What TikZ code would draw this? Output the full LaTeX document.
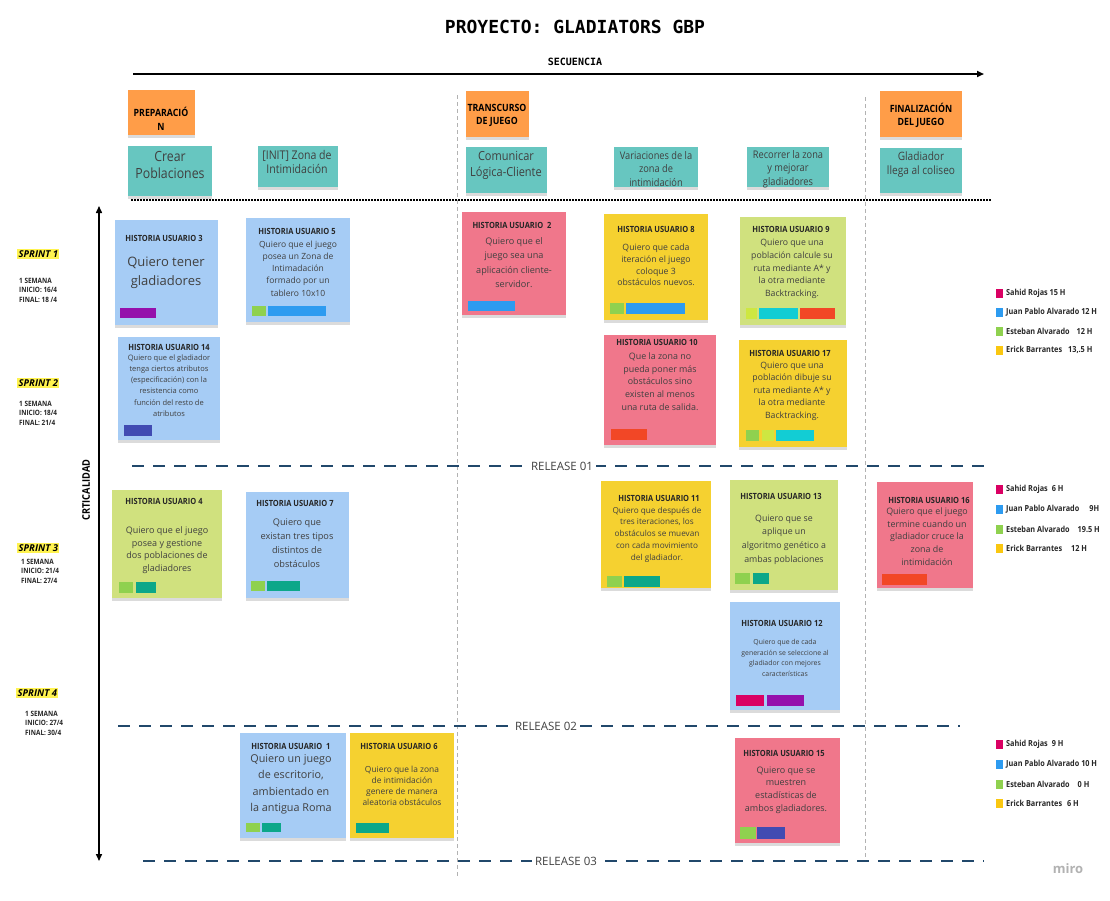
\documentclass[tikz,border=0pt]{standalone}
\usepackage{fontspec}
\setmainfont{Open Sans}
\newfontfamily\headfont[FakeStretch=0.88]{Open Sans}
\newfontfamily\monofont{DejaVu Sans Mono}
\usetikzlibrary{arrows.meta,shadows}

\definecolor{stickyblue}{HTML}{A6CCF5}
\definecolor{stickyred}{HTML}{F0778B}
\definecolor{stickyyellow}{HTML}{F5D130}
\definecolor{stickygreen}{HTML}{D0E17E}
\definecolor{stickyorange}{HTML}{FF9D48}
\definecolor{stickyteal}{HTML}{67C6C0}
\definecolor{tagpurple}{HTML}{9510AC}
\definecolor{tagblue}{HTML}{2D9BF0}
\definecolor{taggreen}{HTML}{8FD14F}
\definecolor{tagteal}{HTML}{0CA789}
\definecolor{tagcyan}{HTML}{12CDD4}
\definecolor{tagred}{HTML}{F24726}
\definecolor{tagindigo}{HTML}{414BB2}
\definecolor{taglime}{HTML}{CEE741}
\definecolor{tagmagenta}{HTML}{DA0063}
\definecolor{tagyellow}{HTML}{FAC710}
\definecolor{releaseblue}{HTML}{21486B}
\definecolor{sprintyellow}{HTML}{FFF34F}

\begin{document}
\begin{tikzpicture}[
        x=1pt, y=-1pt,
        sticky/.style={rectangle, anchor=north west, inner sep=0pt,
            drop shadow={shadow xshift=0pt, shadow yshift=-3pt, fill=black, opacity=0.14}},
        hutitle/.style={font=\headfont\bfseries\fontsize{8.5}{10}\selectfont, text=black!85, inner sep=0pt},
        hubody/.style={align=center, text=black!75, inner sep=0pt},
        phase/.style={align=center, font=\headfont\bfseries\fontsize{10}{13.5}\selectfont, inner sep=0pt},
        epic/.style={align=center, text=black!75, inner sep=0pt},
        sprint/.style={fill=sprintyellow, font=\bfseries\itshape\fontsize{9.5}{11}\selectfont, inner sep=1.5pt, anchor=west},
        sprintinfo/.style={anchor=north west, align=left, font=\headfont\bfseries\fontsize{7.3}{9.3}\selectfont, text=black!85, inner sep=0pt},
        legtext/.style={anchor=west, font=\headfont\bfseries\fontsize{8.3}{9}\selectfont, text=black!85, inner sep=0pt},
        release/.style={draw=releaseblue, line width=2.2pt, dash pattern=on 12pt off 9pt},
        relabel/.style={fill=white, font=\fontsize{11.5}{13}\selectfont, text=black!75, inner sep=3pt},
        lane/.style={draw=black!30, dash pattern=on 4pt off 3pt, line width=0.7pt},
        ]

        \fill[white] (0,0) rectangle (1110,900);
        \useasboundingbox (0,0) rectangle (1110,900);

        % Title and axes
        \node[font=\monofont\bfseries\fontsize{18}{20}\selectfont] (title) at (575,27) {PROYECTO: GLADIATORS GBP};
        \node[font=\monofont\bfseries\fontsize{10}{11}\selectfont] (seq) at (575,62) {SECUENCIA};
        \coordinate (seqstart) at (133,74);
        \coordinate (seqend) at (984,74);
        \draw[line width=1.8pt, -{Triangle[length=7pt,width=6pt]}] (seqstart) -- (seqend);

        \coordinate (crtop) at (99,206);
        \coordinate (crbot) at (99,861);
        \draw[line width=1.5pt, {Triangle[length=7pt,width=6pt]}-{Triangle[length=7pt,width=6pt]}] (crtop) -- (crbot);
        \node[rotate=90, font=\headfont\bfseries\fontsize{10.5}{12}\selectfont] (crit) at (86,490) {CRTICALIDAD};

        \draw[line width=1.6pt, dash pattern=on 1.5pt off 1.5pt] (131,200) -- (991,200);
        \draw[lane] (457,95) -- (457,877);
        \draw[lane] (865,97) -- (865,857);

        % Releases
        \draw[release] (132,466) -- (984,466);
        \draw[release] (118,726) -- (960,726);
        \draw[release] (143,861) -- (984,861);
        \node[relabel] (r1) at (562,466) {RELEASE 01};
        \node[relabel] (r2) at (546,726) {RELEASE 02};
        \node[relabel] (r3) at (566,861) {RELEASE 03};

        % Phases
        \node[sticky, fill=stickyorange, minimum width=67, minimum height=45] (prep) at (128,90) {};
        \node[phase] (prept) at (161,119) {PREPARACIÓ\\N};
        \node[sticky, fill=stickyorange, minimum width=63, minimum height=46] (trans) at (466,91) {};
        \node[phase, font=\headfont\bfseries\fontsize{10}{13}\selectfont] (transt) at (497,115) {TRANSCURSO\\DE JUEGO};
        \node[sticky, fill=stickyorange, minimum width=82, minimum height=46] (fin) at (880,91) {};
        \node[phase, font=\headfont\bfseries\fontsize{10}{13}\selectfont] (fint) at (921,115.5) {FINALIZACIÓN\\DEL JUEGO};

        % Epics
        \node[sticky, fill=stickyteal, minimum width=84, minimum height=50] (crear) at (128,146) {};
        \node[epic, font=\headfont\fontsize{14}{17}\selectfont] (creart) at (170,165) {Crear\\Poblaciones};
        \node[sticky, fill=stickyteal, minimum width=80, minimum height=41] (init) at (258,146) {};
        \node[epic, font=\headfont\fontsize{12}{14}\selectfont] (initt) at (297,161.5) {[INIT] Zona de\\Intimidación};
        \node[sticky, fill=stickyteal, minimum width=81, minimum height=46] (comu) at (466,147) {};
        \node[epic, font=\headfont\fontsize{12.5}{16}\selectfont] (comut) at (506,165.5) {Comunicar\\Lógica-Cliente};
        \node[sticky, fill=stickyteal, minimum width=84, minimum height=40] (vari) at (614,147) {};
        \node[epic, font=\headfont\fontsize{10.5}{13.5}\selectfont] (varit) at (656,169) {Variaciones de la\\zona de\\intimidación};
        \node[sticky, fill=stickyteal, minimum width=82, minimum height=40] (reco) at (747,147) {};
        \node[epic, font=\headfont\fontsize{10.5}{13.5}\selectfont] (recot) at (788,169) {Recorrer la zona\\y mejorar\\gladiadores};
        \node[sticky, fill=stickyteal, minimum width=82, minimum height=45] (glad) at (880,148) {};
        \node[epic, font=\headfont\fontsize{11.5}{14}\selectfont] (gladt) at (921,164.5) {Gladiador\\llega al coliseo};

        % Sprints
        \node[sprint] (s1) at (17,254) {SPRINT 1};
        \node[sprintinfo] (s1i) at (19,278) {1 SEMANA\\INICIO: 16/4\\FINAL: 18 /4};
        \node[sprint] (s2) at (17,383) {SPRINT 2};
        \node[sprintinfo] (s2i) at (19,401) {1 SEMANA\\INICIO: 18/4\\FINAL: 21/4};
        \node[sprint] (s3) at (17,548) {SPRINT 3};
        \node[sprintinfo] (s3i) at (21,559) {1 SEMANA\\INICIO: 21/4\\FINAL: 27/4};
        \node[sprint] (s4) at (16,693) {SPRINT 4};
        \node[sprintinfo] (s4i) at (25,711) {1 SEMANA\\INICIO: 27/4\\FINAL: 30/4};

        % Historias, release 01
        \node[sticky, fill=stickyblue, minimum width=103, minimum height=105] (hu3) at (115,220) {};
        \node[hutitle] (hu3t) at (164,238) {HISTORIA USUARIO 3};
        \node[hubody, font=\fontsize{13}{19.5}\selectfont] (hu3b) at (166,273) {Quiero tener\\gladiadores};
        \fill[tagpurple] (120,308) rectangle (156,318);

        \node[sticky, fill=stickyblue, minimum width=104, minimum height=104] (hu5) at (246,218) {};
        \node[hutitle] (hu5t) at (297,231) {HISTORIA USUARIO 5};
        \node[hubody, font=\fontsize{8.5}{12.2}\selectfont] (hu5b) at (298,268.5) {Quiero que el juego\\posea un Zona de\\Intimadación\\formado por un\\tablero 10x10};
        \fill[taggreen] (252,306) rectangle (266,316);
        \fill[tagblue] (268,306) rectangle (326,316);

        \node[sticky, fill=stickyblue, minimum width=102, minimum height=103] (hu14) at (118,337) {};
        \node[hutitle] (hu14t) at (169,347) {HISTORIA USUARIO 14};
        \node[hubody, font=\fontsize{7.5}{11.2}\selectfont] (hu14b) at (169,385.5) {Quiero que el gladiador\\tenga ciertos atributos\\(especificación) con la\\resistencia como\\función del resto de\\atributos};
        \fill[tagindigo] (124,425) rectangle (152,436);

        \node[sticky, fill=stickyred, minimum width=104, minimum height=103] (hu2) at (462,212) {};
        \node[hutitle] (hu2t) at (512,225) {HISTORIA USUARIO\ \ 2};
        \node[hubody, font=\fontsize{9.1}{14.3}\selectfont] (hu2b) at (514,262.5) {Quiero que el\\juego sea una\\aplicación cliente-\\servidor.};
        \fill[tagblue] (468,301) rectangle (515,311);

        \node[sticky, fill=stickyyellow, minimum width=104, minimum height=106] (hu8) at (604,214) {};
        \node[hutitle] (hu8t) at (656,229) {HISTORIA USUARIO 8};
        \node[hubody, font=\fontsize{8.7}{11.6}\selectfont] (hu8b) at (656,265) {Quiero que cada\\iteración el juego\\coloque 3\\obstáculos nuevos.};
        \fill[taggreen] (610,303) rectangle (624,314);
        \fill[tagblue] (626,303) rectangle (685,314);

        \node[sticky, fill=stickygreen, minimum width=106, minimum height=108] (hu9) at (740,217) {};
        \node[hutitle] (hu9t) at (791,229) {HISTORIA USUARIO 9};
        \node[hubody, font=\fontsize{8.7}{12.6}\selectfont] (hu9b) at (792,269) {Quiero que una\\población calcule su\\ruta mediante A* y\\la otra mediante\\Backtracking.};
        \fill[taglime] (746,308) rectangle (757,319);
        \fill[tagcyan] (759,308) rectangle (798,319);
        \fill[tagred] (800,308) rectangle (835,319);

        \node[sticky, fill=stickyred, minimum width=112, minimum height=110] (hu10) at (604,335) {};
        \node[hutitle] (hu10t) at (657,342) {HISTORIA USUARIO 10};
        \node[hubody, font=\fontsize{8.9}{12.8}\selectfont] (hu10b) at (660,381.5) {Que la zona no\\pueda poner más\\obstáculos sino\\existen al menos\\una ruta de salida.};
        \fill[tagred] (611,429) rectangle (647,440);

        \node[sticky, fill=stickyyellow, minimum width=108, minimum height=107] (hu17) at (739,340) {};
        \node[hutitle] (hu17t) at (790,353) {HISTORIA USUARIO 17};
        \node[hubody, font=\fontsize{8.7}{12.5}\selectfont] (hu17b) at (792,391) {Quiero que una\\población dibuje su\\ruta mediante A* y\\la otra mediante\\Backtracking.};
        \fill[taggreen] (746,430) rectangle (759,441);
        \fill[taglime] (762,430) rectangle (774,441);
        \fill[tagcyan] (776,430) rectangle (814,441);

        % Historias, release 02
        \node[sticky, fill=stickygreen, minimum width=110, minimum height=108] (hu4) at (112,490) {};
        \node[hutitle] (hu4t) at (164,501) {HISTORIA USUARIO 4};
        \node[hubody, font=\fontsize{9}{12.5}\selectfont] (hu4b) at (167,550) {Quiero que el juego\\posea y gestione\\dos poblaciones de\\gladiadores};
        \fill[taggreen] (119,582) rectangle (133,593);
        \fill[tagteal] (136,582) rectangle (156,593);

        \node[sticky, fill=stickyblue, minimum width=103, minimum height=106] (hu7) at (246,492) {};
        \node[hutitle] (hu7t) at (295,503) {HISTORIA USUARIO 7};
        \node[hubody, font=\fontsize{9.2}{14}\selectfont] (hu7b) at (297,543.5) {Quiero que\\existan tres tipos\\distintos de\\obstáculos};
        \fill[taggreen] (251,581) rectangle (265,591);
        \fill[tagteal] (267,581) rectangle (300,591);

        \node[sticky, fill=stickyyellow, minimum width=110, minimum height=107] (hu11) at (601,481) {};
        \node[hutitle] (hu11t) at (659,498) {HISTORIA USUARIO 11};
        \node[hubody, font=\fontsize{8.2}{11.7}\selectfont] (hu11b) at (657,534.5) {Quiero que después de\\tres iteraciones, los\\obstáculos se muevan\\con cada movimiento\\del gladiador.};
        \fill[taggreen] (607,576) rectangle (622,587);
        \fill[tagteal] (624,576) rectangle (660,587);

        \node[sticky, fill=stickygreen, minimum width=108, minimum height=110] (hu13) at (730,480) {};
        \node[hutitle] (hu13t) at (781,496) {HISTORIA USUARIO 13};
        \node[hubody, font=\fontsize{8.8}{13.6}\selectfont] (hu13b) at (784,539.5) {Quiero que se\\aplique un\\algoritmo genético a\\ambas poblaciones};
        \fill[taggreen] (735,573) rectangle (750,584);
        \fill[tagteal] (753,573) rectangle (769,584);

        \node[sticky, fill=stickyblue, minimum width=110, minimum height=108] (hu12) at (730,602) {};
        \node[hutitle] (hu12t) at (782,623) {HISTORIA USUARIO 12};
        \node[hubody, font=\fontsize{6.9}{10.6}\selectfont] (hu12b) at (785,658) {Quiero que de cada\\generación se seleccione al\\gladiador con mejores\\características};
        \fill[tagmagenta] (736,695) rectangle (764,706);
        \fill[tagpurple] (767,695) rectangle (804,706);

        \node[sticky, fill=stickyred, minimum width=96, minimum height=106] (hu16) at (877,482) {};
        \node[hutitle] (hu16t) at (929,500) {HISTORIA USUARIO 16};
        \node[hubody, font=\fontsize{8.9}{12.7}\selectfont] (hu16b) at (927,536.5) {Quiero que el juego\\termine cuando un\\gladiador cruce la\\zona de\\intimidación};
        \fill[tagred] (882,574) rectangle (927,585);

        % Historias, release 03
        \node[sticky, fill=stickyblue, minimum width=106, minimum height=105] (hu1) at (240,733) {};
        \node[hutitle] (hu1t) at (291,746) {HISTORIA USUARIO\ \ 1};
        \node[hubody, font=\fontsize{10.8}{16.4}\selectfont] (hu1b) at (291,784.5) {Quiero un juego\\de escritorio,\\ambientado en\\la antigua Roma};
        \fill[taggreen] (246,823) rectangle (260,832);
        \fill[tagteal] (262,823) rectangle (281,832);

        \node[sticky, fill=stickyyellow, minimum width=104, minimum height=105] (hu6) at (350,733) {};
        \node[hutitle] (hu6t) at (399,746) {HISTORIA USUARIO 6};
        \node[hubody, font=\fontsize{8.4}{10.8}\selectfont] (hu6b) at (402,786) {Quiero que la zona\\de intimidación\\genere de manera\\aleatoria obstáculos};
        \fill[tagteal] (356,823) rectangle (389,833);

        \node[sticky, fill=stickyred, minimum width=105, minimum height=105] (hu15) at (735,738) {};
        \node[hutitle] (hu15t) at (784,753) {HISTORIA USUARIO 15};
        \node[hubody, font=\fontsize{9}{12.8}\selectfont] (hu15b) at (786,790) {Quiero que se\\muestren\\estadísticas de\\ambos gladiadores.};
        \fill[taggreen] (740,827) rectangle (756,839);
        \fill[tagindigo] (757,827) rectangle (785,839);

        % Horas por persona
        \foreach \y/\c in {293/tagmagenta, 312/tagblue, 331/taggreen, 350/tagyellow,
                           489/tagmagenta, 509/tagblue, 529/taggreen, 548/tagyellow,
                           744/tagmagenta, 764/tagblue, 784/taggreen, 803/tagyellow}
            \fill[\c] (996,\y-4.5) rectangle (1003,\y+4.5);

        \node[legtext] (l1a) at (1006,293) {Sahid Rojas 15 H};
        \node[legtext] (l1b) at (1006,312) {Juan Pablo Alvarado 12 H};
        \node[legtext] (l1c) at (1006,331) {Esteban Alvarado\hspace{7pt}12 H};
        \node[legtext] (l1d) at (1006,350) {Erick Barrantes\hspace{6pt}13,.5 H};
        \node[legtext] (l2a) at (1006,489) {Sahid Rojas\hspace{4pt}6 H};
        \node[legtext] (l2b) at (1006,509) {Juan Pablo Alvarado\hspace{10pt}9H};
        \node[legtext] (l2c) at (1006,529) {Esteban Alvarado\hspace{8pt}19.5 H};
        \node[legtext] (l2d) at (1006,548) {Erick Barrantes\hspace{9pt}12 H};
        \node[legtext] (l3a) at (1006,744) {Sahid Rojas\hspace{4pt}9 H};
        \node[legtext] (l3b) at (1006,764) {Juan Pablo Alvarado 10 H};
        \node[legtext] (l3c) at (1006,784) {Esteban Alvarado\hspace{8pt}0 H};
        \node[legtext] (l3d) at (1006,803) {Erick Barrantes\hspace{5pt}6 H};

        \node[font=\bfseries\fontsize{13}{14}\selectfont, text=black!30] (miro) at (1068,869) {miro};

    \end{tikzpicture}
\end{document}
